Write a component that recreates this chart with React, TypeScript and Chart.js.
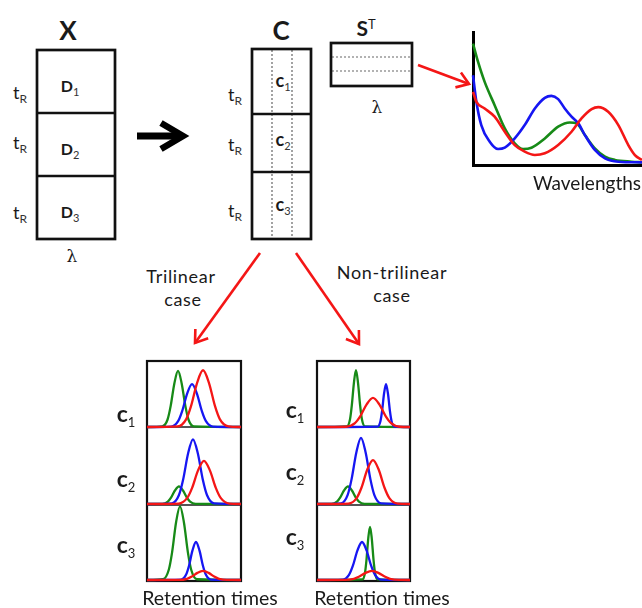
import React, { useEffect, useRef } from "react";
import { Chart, registerables } from "chart.js";

Chart.register(...registerables);

type P = [number, number];

const GREEN = "#178a17";
const BLUE = "#1616f2";
const RED = "#f41616";

// ---- Spectra (S^T) : x = wavelength (0-100), y = intensity (0-100)
const SPECTRUM_GREEN: P[] = [[0, 91.3], [3, 77.5], [6.9, 62.5], [12.8, 45], [18.8, 27.5], [24.7, 16.3], [29.6, 12], [34.6, 13], [42.5, 20], [50.4, 28.8], [57.3, 32], [61.3, 31.3], [66.2, 22.5], [72.1, 12.5], [78.1, 6.3], [84, 3.8], [93.9, 2.5], [100, 2]];
const SPECTRUM_BLUE: P[] = [[0, 67.5], [2, 47.5], [4.9, 30], [9.9, 17.5], [14.8, 12], [18.8, 13], [24.7, 20], [30.6, 30], [36.6, 42.5], [42.5, 50.5], [46.4, 52], [50.4, 49.5], [54.3, 42.5], [58.3, 36.3], [62.3, 31.3], [66.2, 22.5], [72.1, 11.3], [78.1, 5], [86, 2.5], [100, 2]];
const SPECTRUM_RED: P[] = [[0, 55], [2, 47.5], [6.9, 42.5], [12.8, 36.3], [18.8, 25], [24.7, 15], [30.6, 10], [36.6, 7.5], [42.5, 8.8], [50.4, 15], [58.3, 25], [64.2, 35], [70.2, 42], [74.1, 43.5], [80, 40], [86, 30], [91.9, 15], [95.8, 7.5], [100, 3.8]];

// ---- Trilinear case: x = retention time (0-100), y = intensity (% of panel)
const TRI_C1_GREEN: P[] = [[0, 0], [16.2, 1], [21.8, 11], [25.2, 32], [29.1, 66], [33, 85], [36.9, 66], [40.8, 32], [44.2, 11], [49.8, 1], [100, 0]];
const TRI_C1_BLUE: P[] = [[0, 0], [25.7, 0.7], [33.1, 8.8], [37.5, 24.4], [42.7, 50.7], [47.9, 65], [53.1, 50.7], [58.3, 24.4], [62.7, 8.8], [70.1, 0.7], [100, 0]];
const TRI_C1_RED: P[] = [[0, 0], [32.6, 0.9], [41.6, 11.6], [47, 32.3], [53.3, 67], [59.6, 86], [65.9, 67], [72.2, 32.3], [77.6, 11.6], [86.6, 0.9], [100, 0]];

const TRI_C2_GREEN: P[] = [[0, 0], [16.3, 0.2], [22.2, 3.1], [25.7, 8.6], [29.9, 17.9], [34, 23], [38.1, 17.9], [42.3, 8.6], [45.8, 3.1], [51.7, 0.2], [100, 0]];
const TRI_C2_BLUE: P[] = [[0, 0], [26.4, 0.8], [33.9, 11.3], [38.4, 31.5], [43.7, 65.5], [48.9, 84], [54.1, 65.5], [59.4, 31.5], [63.9, 11.3], [71.4, 0.8], [100, 0]];
const TRI_C2_RED: P[] = [[0, 0], [33.6, 0.6], [42.6, 7.6], [48, 21], [54.3, 43.7], [60.6, 56], [66.9, 43.7], [73.2, 21], [78.6, 7.6], [87.6, 0.6], [100, 0]];

const TRI_C3_GREEN: P[] = [[0, 0], [17.1, 1], [23.1, 13.1], [26.7, 36.4], [30.9, 75.7], [35.1, 97], [39.3, 75.7], [43.5, 36.4], [47.1, 13.1], [53.1, 1], [100, 0]];
const TRI_C3_BLUE: P[] = [[0, 0], [36.2, 0.5], [41.5, 6.8], [44.7, 18.8], [48.4, 39], [52.1, 50], [55.8, 39], [59.5, 18.8], [62.7, 6.8], [68, 0.5], [100, 0]];
const TRI_C3_RED: P[] = [[0, 0], [34.1, 0.1], [42.6, 1.6], [47.7, 4.5], [53.6, 9.4], [59.6, 12], [65.6, 9.4], [71.5, 4.5], [76.6, 1.6], [85.1, 0.1], [100, 0]];

// ---- Non-trilinear case
const NON_C1_GREEN: P[] = [[0, 0], [32.3, 0.9], [35.5, 11.6], [37.4, 32.3], [39.7, 67], [41.9, 86], [44.1, 67], [46.4, 32.3], [48.3, 11.6], [51.5, 0.9], [100, 0]];
const NON_C1_BLUE: P[] = [[0, 0], [65.2, 0.7], [68.2, 8.8], [70, 24.4], [72.1, 50.7], [74.2, 65], [76.3, 50.7], [78.4, 24.4], [80.2, 8.8], [83.2, 0.7], [100, 0]];
const NON_C1_RED: P[] = [[0, 0], [31.1, 0.4], [40.8, 5.9], [46.6, 16.5], [53.4, 34.3], [60.2, 44], [67, 34.3], [73.8, 16.5], [79.6, 5.9], [89.3, 0.4], [100, 0]];

const NON_C2_GREEN: P[] = [[0, 0], [15.6, 0.2], [21.5, 3.1], [25, 8.6], [29.2, 17.9], [33.3, 23], [37.4, 17.9], [41.6, 8.6], [45.1, 3.1], [51, 0.2], [100, 0]];
const NON_C2_BLUE: P[] = [[0, 0], [25.7, 0.9], [32.9, 11.6], [37.2, 32.3], [42.3, 67], [47.3, 86], [52.3, 67], [57.4, 32.3], [61.7, 11.6], [68.9, 0.9], [100, 0]];
const NON_C2_RED: P[] = [[0, 0], [33.8, 0.6], [42.6, 7.7], [47.9, 21.4], [54, 44.5], [60.2, 57], [66.4, 44.5], [72.5, 21.4], [77.8, 7.7], [86.6, 0.6], [100, 0]];

const NON_C3_GREEN: P[] = [[0, 0], [48.9, 0.7], [51.6, 9.5], [53.2, 26.3], [55.1, 54.6], [57, 70], [58.9, 54.6], [60.8, 26.3], [62.4, 9.5], [65.1, 0.7], [100, 0]];
const NON_C3_BLUE: P[] = [[0, 0], [27.4, 0.5], [34.4, 6.8], [38.6, 18.8], [43.5, 39], [48.4, 50], [53.3, 39], [58.2, 18.8], [62.4, 6.8], [69.4, 0.5], [100, 0]];
const NON_C3_RED: P[] = [[0, 0], [30, 0.1], [39.7, 1.6], [45.5, 4.5], [52.3, 9.4], [59.1, 12], [65.9, 9.4], [72.7, 4.5], [78.5, 1.6], [88.2, 0.1], [100, 0]];

type Series = { points: P[]; color: string };
type Area = { left: number; top: number; width: number; height: number };
type Pad = { left: number; top: number; right: number; bottom: number };

function LinePlot({ area, pad, series, axes, lineWidth }: { area: Area; pad: Pad; series: Series[]; axes: boolean; lineWidth: number }) {
  const ref = useRef<HTMLCanvasElement>(null);
  const w = area.width + pad.left + pad.right;
  const h = area.height + pad.top + pad.bottom;
  useEffect(() => {
    const axis = (pos: string) => ({
      type: "linear" as const,
      position: pos,
      min: 0,
      max: 100,
      display: axes,
      ticks: { display: false },
      grid: { display: false, drawTicks: false },
      border: { display: axes, color: "#000", width: 3 },
    });
    const chart = new Chart(ref.current as HTMLCanvasElement, {
      type: "line",
      data: {
        datasets: series.map((s) => ({
          data: s.points.map(([x, y]) => ({ x, y })),
          borderColor: s.color,
          borderWidth: lineWidth,
          pointRadius: 0,
          fill: false,
          cubicInterpolationMode: "monotone" as const,
          clip: false as any,
        })),
      },
      options: {
        animation: false,
        responsive: false,
        maintainAspectRatio: false,
        events: [],
        layout: { padding: pad },
        plugins: { legend: { display: false }, tooltip: { enabled: false } },
        scales: { x: axis("bottom") as any, y: axis("left") as any },
      },
    });
    return () => chart.destroy();
  }, []);
  return (
    <canvas
      ref={ref}
      width={w}
      height={h}
      style={{ position: "absolute", left: area.left - pad.left, top: area.top - pad.top, width: w, height: h, display: "block" }}
    />
  );
}

const FONT = "Lato, 'Open Sans', sans-serif";

function T({ x, y, size, bold, children, serif, spacing }: { x: number; y: number; size: number; bold?: boolean; children: React.ReactNode; serif?: boolean; spacing?: number }) {
  return (
    <div
      style={{
        position: "absolute",
        left: x,
        top: y,
        transform: "translate(-50%, -50%)",
        fontSize: size,
        fontWeight: bold ? 700 : 400,
        fontFamily: serif ? "'DejaVu Serif', serif" : FONT,
        lineHeight: 1,
        letterSpacing: spacing || 0,
        whiteSpace: "nowrap",
        color: "#1a1a1a",
        textAlign: "center",
      }}
    >
      {children}
    </div>
  );
}

function Sub({ size, children, color }: { size: number; children: React.ReactNode; color?: string }) {
  return <span style={{ fontSize: size, fontWeight: 400, position: "relative", top: "0.35em", color: color || "#333" }}>{children}</span>;
}

function TR({ x, y }: { x: number; y: number }) {
  return (
    <T x={x} y={y} size={18}>
      t<Sub size={12}>R</Sub>
    </T>
  );
}

function headPts(x1: number, y1: number, x2: number, y2: number, len: number, ang: number) {
  const a = Math.atan2(y1 - y2, x1 - x2);
  const p1 = [x2 + len * Math.cos(a + ang), y2 + len * Math.sin(a + ang)];
  const p2 = [x2 + len * Math.cos(a - ang), y2 + len * Math.sin(a - ang)];
  return `${p1[0]},${p1[1]} ${x2},${y2} ${p2[0]},${p2[1]}`;
}

function RedArrow({ x1, y1, x2, y2 }: { x1: number; y1: number; x2: number; y2: number }) {
  return (
    <g stroke={RED} strokeWidth={2.6} fill="none">
      <line x1={x1} y1={y1} x2={x2} y2={y2} />
      <polyline points={headPts(x1, y1, x2, y2, 14, 0.6)} strokeLinejoin="miter" />
    </g>
  );
}

function Boxes() {
  return (
    <svg width={642} height={608} style={{ position: "absolute", left: 0, top: 0 }}>
      {/* X matrix */}
      <g stroke="#111" strokeWidth={2.7} fill="none">
        <rect x={37} y={50} width={78} height={189} />
        <line x1={37} y1={113} x2={115} y2={113} />
        <line x1={37} y1={176} x2={115} y2={176} />
      </g>
      {/* C matrix */}
      <g stroke="#666" strokeWidth={1.2} strokeDasharray="2 2">
        <line x1={272} y1={50} x2={272} y2={238} />
        <line x1={292} y1={50} x2={292} y2={238} />
        <line x1={332} y1={57} x2={411} y2={57} />
        <line x1={332} y1={71} x2={411} y2={71} />
      </g>
      <g stroke="#111" strokeWidth={2.7} fill="none">
        <rect x={252} y={49} width={59} height={190} />
        <line x1={252} y1={114} x2={311} y2={114} />
        <line x1={252} y1={172} x2={311} y2={172} />
        <rect x={331} y={43} width={81} height={43} />
      </g>
      {/* black arrow */}
      <g stroke="#000" fill="none">
        <line x1={137} y1={136} x2={180} y2={136} strokeWidth={7} />
        <polyline points="161,123 183,136 161,149" strokeWidth={6.5} strokeLinejoin="miter" />
      </g>
      {/* red arrows */}
      <RedArrow x1={418} y1={65} x2={469} y2={84} />
      <RedArrow x1={260} y1={253} x2={195} y2={343} />
      <RedArrow x1={296} y1={253} x2={359} y2={344} />
      {/* bottom boxes */}
      <g stroke="#555" strokeWidth={2}>
        <line x1={147} y1={427} x2={241} y2={427} />
        <line x1={147} y1={505} x2={241} y2={505} />
        <line x1={317} y1={427} x2={410} y2={427} />
        <line x1={317} y1={505} x2={410} y2={505} />
      </g>
      <g stroke="#111" strokeWidth={2.2} fill="none">
        <rect x={147} y={361} width={94} height={220} />
        <rect x={317} y={361} width={93} height={220} />
      </g>
    </svg>
  );
}

const PAD: Pad = { left: 0, right: 0, top: 4, bottom: 4 };

function Column({ left, width, c1, c2, c3 }: { left: number; width: number; c1: Series[]; c2: Series[]; c3: Series[] }) {
  return (
    <>
      <LinePlot area={{ left, top: 361, width, height: 66 }} pad={PAD} series={c1} axes={false} lineWidth={2.3} />
      <LinePlot area={{ left, top: 427, width, height: 77 }} pad={PAD} series={c2} axes={false} lineWidth={2.3} />
      <LinePlot area={{ left, top: 504, width, height: 76 }} pad={PAD} series={c3} axes={false} lineWidth={2.3} />
    </>
  );
}

function CLabel({ x, y, n }: { x: number; y: number; n: number }) {
  return (
    <T x={x} y={y} size={23} bold>
      c<Sub size={13} color="#222">{n}</Sub>
    </T>
  );
}

export default function App() {
  const trilinear = {
    c1: [{ points: TRI_C1_RED, color: RED }, { points: TRI_C1_BLUE, color: BLUE }, { points: TRI_C1_GREEN, color: GREEN }],
    c2: [{ points: TRI_C2_RED, color: RED }, { points: TRI_C2_BLUE, color: BLUE }, { points: TRI_C2_GREEN, color: GREEN }],
    c3: [{ points: TRI_C3_RED, color: RED }, { points: TRI_C3_BLUE, color: BLUE }, { points: TRI_C3_GREEN, color: GREEN }],
  };
  const nonTrilinear = {
    c1: [{ points: NON_C1_RED, color: RED }, { points: NON_C1_BLUE, color: BLUE }, { points: NON_C1_GREEN, color: GREEN }],
    c2: [{ points: NON_C2_RED, color: RED }, { points: NON_C2_BLUE, color: BLUE }, { points: NON_C2_GREEN, color: GREEN }],
    c3: [{ points: NON_C3_RED, color: RED }, { points: NON_C3_BLUE, color: BLUE }, { points: NON_C3_GREEN, color: GREEN }],
  };
  const spectra: Series[] = [
    { points: SPECTRUM_RED, color: RED },
    { points: SPECTRUM_BLUE, color: BLUE },
    { points: SPECTRUM_GREEN, color: GREEN },
  ];
  return (
    <div style={{ position: "absolute", left: 0, top: 0, width: 642, height: 608, background: "#fff", overflow: "hidden", fontFamily: FONT }}>
      <Boxes />
      <LinePlot area={{ left: 473, top: 32, width: 169, height: 133 }} pad={{ left: 6, top: 6, right: 0, bottom: 6 }} series={spectra} axes={true} lineWidth={2.6} />
      <Column left={147} width={94} {...trilinear} />
      <Column left={317} width={93} {...nonTrilinear} />

      {/* X block */}
      <T x={68} y={30} size={26} bold>X</T>
      <TR x={20} y={92} />
      <TR x={20} y={142} />
      <TR x={20} y={212} />
      <T x={70} y={86} size={16} bold>D<Sub size={11}>1</Sub></T>
      <T x={70} y={149} size={16} bold>D<Sub size={11}>2</Sub></T>
      <T x={70} y={212} size={16} bold>D<Sub size={11}>3</Sub></T>
      <T x={72} y={256} size={17} serif>λ</T>

      {/* C block */}
      <T x={281} y={30} size={26} bold>C</T>
      <TR x={235} y={94} />
      <TR x={235} y={144} />
      <TR x={235} y={210} />
      <T x={283} y={80} size={18} bold>c<Sub size={11}>1</Sub></T>
      <T x={283} y={139} size={18} bold>c<Sub size={11}>2</Sub></T>
      <T x={283} y={204} size={18} bold>c<Sub size={11}>3</Sub></T>

      {/* S^T block */}
      <T x={366} y={27} size={21} bold>
        S<span style={{ fontSize: 13, fontWeight: 400, position: "relative", top: "-0.55em" }}>T</span>
      </T>
      <T x={377} y={107} size={17} serif>λ</T>
      <T x={587} y={182} size={19}>Wavelengths</T>

      {/* cases */}
      <T x={181} y={276} size={18} spacing={0.7}>Trilinear</T>
      <T x={183} y={298.5} size={18} spacing={0.7}>case</T>
      <T x={392} y={272} size={18} spacing={0.7}>Non-trilinear</T>
      <T x={392} y={294.5} size={18} spacing={0.7}>case</T>

      <CLabel x={126} y={413} n={1} />
      <CLabel x={126} y={478} n={2} />
      <CLabel x={126} y={544} n={3} />
      <CLabel x={295} y={409} n={1} />
      <CLabel x={295} y={471} n={2} />
      <CLabel x={295} y={536} n={3} />

      <T x={210} y={598} size={19.5}>Retention times</T>
      <T x={382} y={598} size={19.5}>Retention times</T>
    </div>
  );
}
